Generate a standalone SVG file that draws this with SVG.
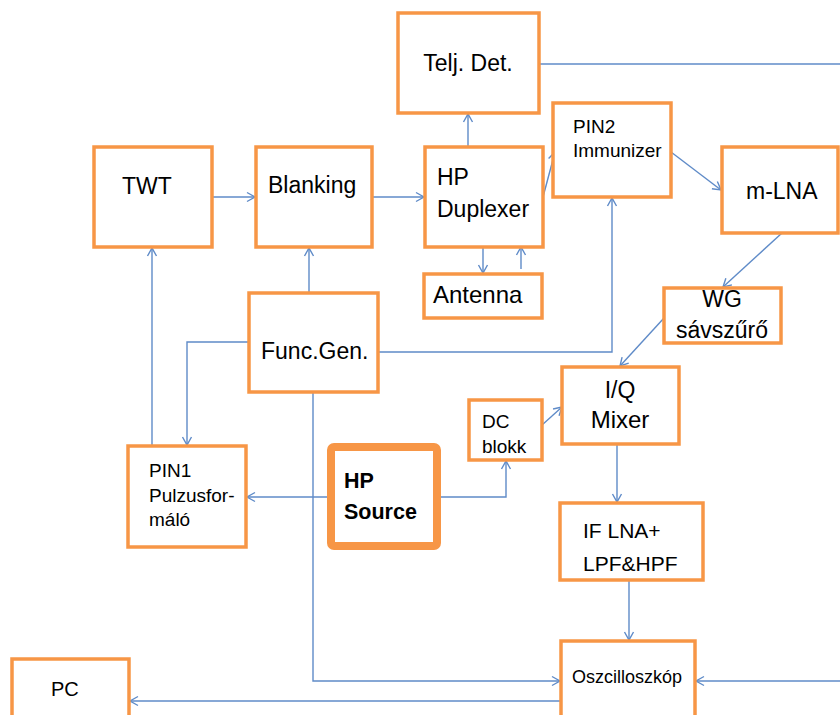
<svg xmlns="http://www.w3.org/2000/svg" width="840" height="715" viewBox="0 0 840 715">
<style>
.box{fill:#fff;stroke:#F79646;stroke-width:3.5}
.thick{fill:#fff;stroke:#F79646;stroke-width:8}
.c{fill:none;stroke:#5f8bc8;stroke-width:1.4}
text{font-family:"Liberation Sans",Arial,sans-serif;fill:#000}
.l{font-size:23px}
.m{font-size:19px}
.b{font-size:21.5px;font-weight:bold}
</style>
<defs>
<marker id="a" markerUnits="userSpaceOnUse" markerWidth="12" markerHeight="12" refX="9" refY="5" orient="auto" viewBox="0 0 12 10">
<path d="M1,0.5 L9,5 L1,9.5" fill="none" stroke="#5f8bc8" stroke-width="1.4"/>
</marker>
</defs>
<rect width="840" height="715" fill="#fff"/>
<g id="connectors">
<line class="c" x1="539" y1="64" x2="840" y2="64"/>
<line class="c" x1="212" y1="197" x2="255" y2="197" marker-end="url(#a)"/>
<line class="c" x1="372" y1="197" x2="424" y2="197" marker-end="url(#a)"/>
<line class="c" x1="468" y1="147" x2="468" y2="114" marker-end="url(#a)"/>
<line class="c" x1="543" y1="197" x2="555" y2="152" marker-end="url(#a)"/>
<line class="c" x1="483" y1="247" x2="483" y2="273" marker-end="url(#a)"/>
<line class="c" x1="521" y1="269" x2="521" y2="247" marker-end="url(#a)"/>
<line class="c" x1="671" y1="152" x2="721" y2="190" marker-end="url(#a)"/>
<line class="c" x1="782" y1="233" x2="723" y2="287" marker-end="url(#a)"/>
<line class="c" x1="664" y1="318" x2="620" y2="366" marker-end="url(#a)"/>
<line class="c" x1="309" y1="293" x2="309" y2="248" marker-end="url(#a)"/>
<polyline class="c" points="249,342 187,342 187,445" marker-end="url(#a)"/>
<line class="c" x1="152" y1="446" x2="152" y2="248" marker-end="url(#a)"/>
<polyline class="c" points="378,352 612,352 612,198" marker-end="url(#a)"/>
<polyline class="c" points="313,392 313,681 560,681" marker-end="url(#a)"/>
<line class="c" x1="327" y1="497" x2="247" y2="497" marker-end="url(#a)"/>
<polyline class="c" points="441,497 506,497 506,461" marker-end="url(#a)"/>
<line class="c" x1="542" y1="425" x2="562" y2="407" marker-end="url(#a)"/>
<line class="c" x1="617" y1="444" x2="617" y2="502" marker-end="url(#a)"/>
<line class="c" x1="629" y1="580" x2="629" y2="640" marker-end="url(#a)"/>
<line class="c" x1="840" y1="681" x2="696" y2="681" marker-end="url(#a)"/>
<line class="c" x1="561" y1="701" x2="130" y2="701" marker-end="url(#a)"/>
</g>
<g id="telj"><rect class="box" x="398" y="13" width="141" height="100"/><text class="l" x="468" y="71" text-anchor="middle">Telj. Det.</text></g>
<g id="twt"><rect class="box" x="94" y="147" width="118" height="100"/><text class="l" x="122" y="194">TWT</text></g>
<g id="blanking"><rect class="box" x="256" y="147" width="116" height="100"/><text class="l" x="268" y="193">Blanking</text></g>
<g id="duplexer"><rect class="box" x="425" y="147" width="118" height="100"/><text class="l" x="437" y="185">HP</text><text class="l" x="437" y="217">Duplexer</text></g>
<g id="pin2"><rect class="box" x="553" y="103" width="118" height="94"/><text class="m" x="573" y="133">PIN2</text><text class="m" x="573" y="157">Immunizer</text></g>
<g id="antenna"><rect class="box" x="424" y="274" width="118" height="44"/><text class="l" x="433" y="303" style="font-size:24px">Antenna</text></g>
<g id="mlna"><rect class="box" x="722" y="147" width="116" height="86"/><text class="l" x="746" y="199">m-LNA</text></g>
<g id="wg"><rect class="box" x="664" y="288" width="117" height="55"/><text class="l" x="722" y="307" text-anchor="middle">WG</text><text class="l" x="722" y="338" text-anchor="middle">sávszűrő</text></g>
<g id="funcgen"><rect class="box" x="249" y="293" width="129" height="99"/><text class="l" x="261" y="359">Func.Gen.</text></g>
<g id="pin1"><rect class="box" x="128" y="446" width="118" height="101"/><text class="m" x="149" y="477">PIN1</text><text class="m" x="149" y="502">Pulzusfor-</text><text class="m" x="149" y="526">máló</text></g>
<g id="hpsource"><rect class="thick" x="331" y="447" width="106" height="99" rx="3"/><text class="b" x="344" y="488">HP</text><text class="b" x="344" y="519">Source</text></g>
<g id="dcblokk"><rect class="box" x="469" y="400" width="73" height="60"/><text class="m" x="482" y="428">DC</text><text class="m" x="482" y="453">blokk</text></g>
<g id="iqmixer"><rect class="box" x="562" y="367" width="117" height="77"/><text class="l" x="620" y="398" text-anchor="middle">I/Q</text><text class="l" x="620" y="428" text-anchor="middle" style="font-size:24px">Mixer</text></g>
<g id="iflna"><rect class="box" x="560" y="503" width="143" height="77"/><text class="l" x="583" y="538" style="font-size:21px">IF LNA+</text><text class="l" x="583" y="571" style="font-size:21px">LPF&amp;HPF</text></g>
<g id="osc"><rect class="box" x="561" y="641" width="134" height="90"/><text x="572" y="683" style="font-size:18px">Oszcilloszkóp</text></g>
<g id="pc"><rect class="box" x="12" y="659" width="117" height="70"/><text x="51" y="696" style="font-size:20px">PC</text></g>
</svg>
